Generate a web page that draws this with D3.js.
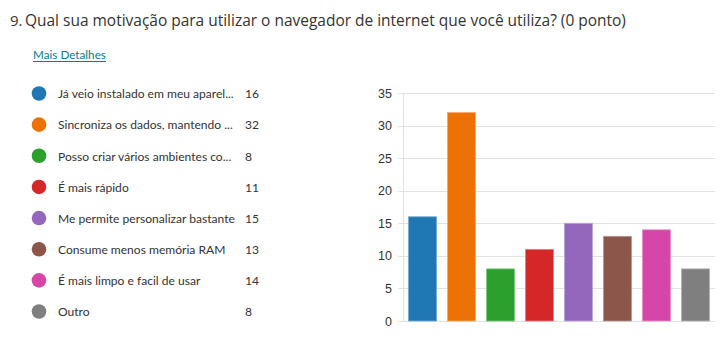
<!DOCTYPE html>
<html><head><meta charset="utf-8">
<script src="https://cdn.jsdelivr.net/npm/d3@7/dist/d3.min.js"></script>
<style>body{margin:0;background:#fff;} svg{display:block;}</style>
</head><body>
<svg id="c" width="725" height="344"></svg>
<script>
const categories = ["Já veio instalado em meu aparel...", "Sincroniza os dados, mantendo ...", "Posso criar vários ambientes co...", "É mais rápido", "Me permite personalizar bastante", "Consume menos memória RAM", "É mais limpo e facil de usar", "Outro"];
const values = [16, 32, 8, 11, 15, 13, 14, 8];
const colors = ["#1f77b4", "#ec7206", "#2ca02c", "#d62728", "#9467bd", "#8c564b", "#d546a8", "#7f7f7f"];
const yTicks = [0, 5, 10, 15, 20, 25, 30, 35];
const titleNum = "9.";
const title = "Qual sua motivação para utilizar o navegador de internet que você utiliza? (0 ponto)";
const linkText = "Mais Detalhes";

const svg = d3.select("#c");
const font = "'Open Sans', 'Noto Sans', sans-serif";
const lfont = "Lato, 'Open Sans', sans-serif";

function fitSize(sel, target, base) {
  const w = sel.node().getComputedTextLength();
  if (w > 0) sel.attr("font-size", base * target / w);
}

svg.append("text").attr("x", 10).attr("y", 26).attr("font-family", font)
  .attr("font-size", 15).attr("fill", "#333").text(titleNum);
const tt = svg.append("text").attr("x", 25).attr("y", 26).attr("font-family", font)
  .attr("font-size", 15).attr("fill", "#333").text(title);
fitSize(tt, 601, 15);

const lk = svg.append("text").attr("x", 33).attr("y", 59).attr("font-family", lfont)
  .attr("font-size", 12).attr("fill", "#0a7d8a").text(linkText);
fitSize(lk, 73, 12);
svg.append("line").attr("x1",33).attr("x2",106).attr("y1",61.5).attr("y2",61.5).attr("stroke","#0a7d8a").attr("stroke-width",1);

// legend
const ly = d3.scalePoint().domain(d3.range(categories.length)).range([93.5, 311.5]);
const lg = svg.append("g");
const probe = lg.append("text").attr("font-family",lfont).attr("font-size",13).text(categories[4]);
const lw = probe.node().getComputedTextLength();
const lfs = lw > 0 ? 13 * 177 / lw : 12;
probe.remove();
categories.forEach((c,i)=>{
  const yy = ly(i);
  lg.append("circle").attr("cx",39).attr("cy",yy).attr("r",7.3).attr("fill",colors[i]);
  lg.append("text").attr("x",58).attr("y",yy+4.8).attr("font-family",lfont).attr("font-size",lfs).attr("fill","#333").text(c);
  lg.append("text").attr("x",245).attr("y",yy+4.8).attr("font-family",lfont).attr("font-size",lfs).attr("fill","#333").text(values[i]);
});

// chart
const x = d3.scaleBand().domain(d3.range(values.length)).range([403, 715]).paddingInner(0.28).paddingOuter(0.14);
const y = d3.scaleLinear().domain([0, 35]).range([321, 93]);

const grid = svg.append("g");
yTicks.forEach(t=>{
  grid.append("line").attr("x1",398).attr("x2",715).attr("y1",Math.round(y(t))+0.5).attr("y2",Math.round(y(t))+0.5)
    .attr("stroke","#e2e2e2").attr("stroke-width",1);
});
svg.append("line").attr("x1",403.5).attr("x2",403.5).attr("y1",93).attr("y2",321).attr("stroke","#e2e2e2");

const yAxis = d3.axisLeft(y).tickValues(yTicks).tickSize(0).tickPadding(0);
const ga = svg.append("g").attr("transform","translate(392,0)").call(yAxis);
ga.select(".domain").remove();
ga.selectAll("text").attr("font-family","'Liberation Sans', Arial, sans-serif").attr("font-size",12.5).attr("fill","#333");

svg.append("g").selectAll("rect").data(values).join("rect")
  .attr("x",(d,i)=>x(i)).attr("width",x.bandwidth())
  .attr("y",d=>y(d)).attr("height",d=>y(0)-y(d))
  .attr("fill",(d,i)=>colors[i])
  .attr("stroke",(d,i)=>d3.interpolateRgb(colors[i],"#fff")(0.4)).attr("stroke-width",0.8);
</script>
</body></html>
